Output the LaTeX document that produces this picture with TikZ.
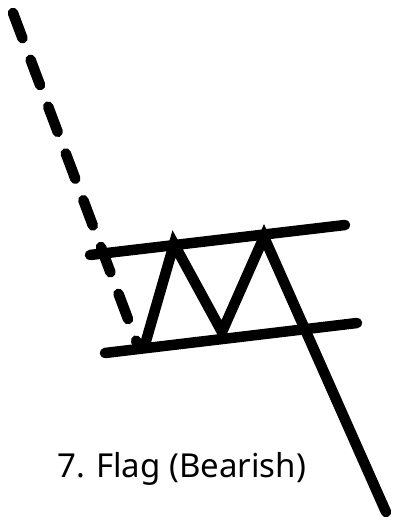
\documentclass[tikz,border=0pt]{standalone}
\usepackage{fontspec}
\setmainfont{Noto Sans}
\begin{document}
\begin{tikzpicture}[x=1pt,y=-1pt,
  thick line/.style={line width=10.5pt,line cap=round,line join=miter},
  trend/.style={thick line,dash pattern=on 27pt off 23pt}]
\useasboundingbox[fill=white] (0,0) rectangle (397,520);
\coordinate (d0) at (13,13);
\coordinate (d1) at (137,343);
\coordinate (u0) at (90,255);
\coordinate (u1) at (345,225);
\coordinate (l0) at (105,353);
\coordinate (l1) at (357,323);
\coordinate (z0) at (146,341);
\coordinate (z1) at (174,244);
\coordinate (z2) at (222,332);
\coordinate (z3) at (264,237);
\coordinate (z4) at (386,512);
\draw[trend] (d0) -- (d1);
\draw[thick line] (u0) -- (u1);
\draw[thick line] (l0) -- (l1);
\draw[thick line] (z0) -- (z1) -- (z2) -- (z3) -- (z4);
\node[anchor=base west,inner sep=0pt,font=\fontsize{33}{40}\selectfont] (t) at (57,477) {7. Flag (Bearish)};
\end{tikzpicture}
\end{document}
